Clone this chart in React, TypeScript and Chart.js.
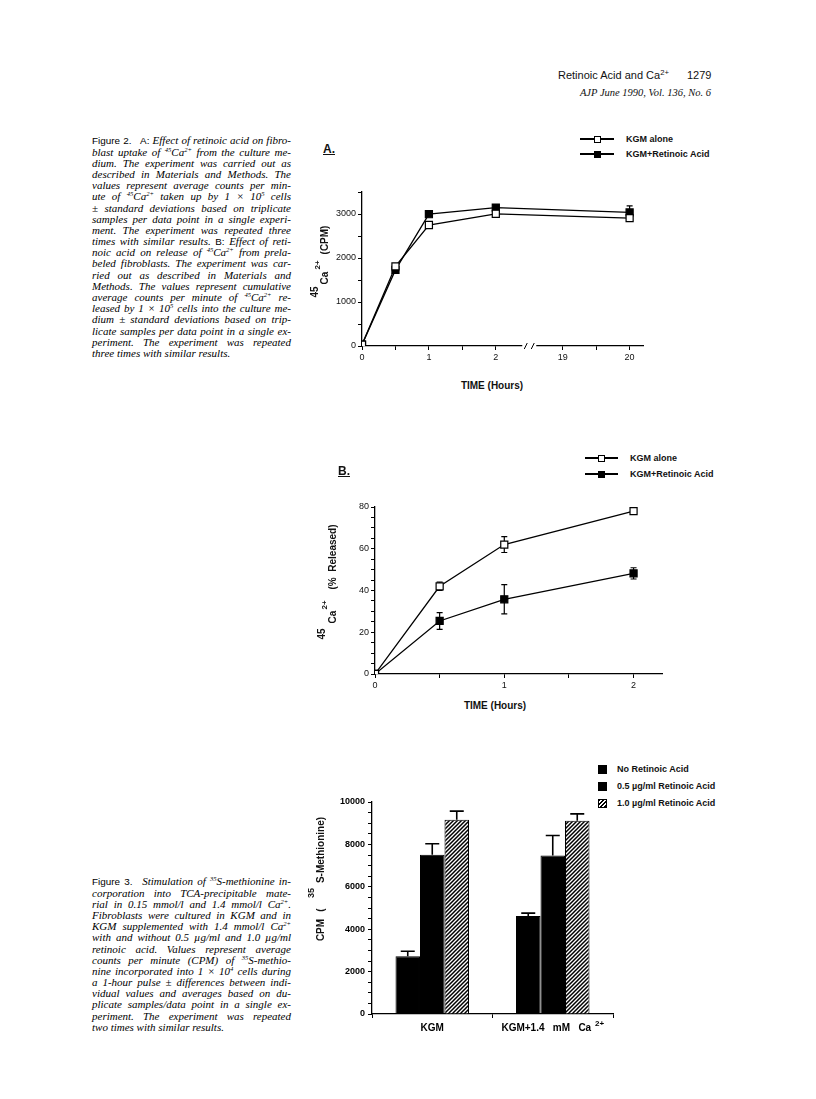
import React, { useEffect, useRef } from "react";
import { Chart, registerables } from "chart.js";

Chart.register(...registerables);

const SANS = "'Liberation Sans', Arial, Helvetica, sans-serif";
const SERIF = "'Liberation Serif', 'Times New Roman', serif";
Chart.defaults.font.family = SANS;
Chart.defaults.color = "#111";

// ---------- Figure 2A: 45Ca2+ uptake (CPM) ----------
const A_HOURS = [0, 0.5, 1, 2, 20];
const A_TICK_HOURS = [0, 1, 2, 19, 20];
const A_KGM = [30, 1810, 2750, 3005, 2905];
const A_KGM_ERR = [0, 40, 60, 40, 50];
const A_RA = [30, 1730, 2995, 3145, 3035];
const A_RA_ERR = [0, 40, 40, 60, 150];

// ---------- Figure 2B: 45Ca2+ release (%) ----------
const B_HOURS = [0, 0.5, 1, 2];
const B_KGM = [0, 42, 62, 78];
const B_KGM_ERR = [0, 2, 3.8, 1];
const B_RA = [0, 25.4, 35.8, 48.2];
const B_RA_ERR = [0, 4, 7, 2.7];

// ---------- Figure 3: 35S-methionine incorporation ----------
const C_CATEGORIES = ["KGM", "KGM+1.4   mM   Ca ^2+"];
const C_NO_RA = [2720, 4620];
const C_NO_RA_ERR = [240, 140];
const C_RA05 = [7510, 7480];
const C_RA05_ERR = [520, 940];
const C_RA10 = [9160, 9110];
const C_RA10_ERR = [410, 330];

const LEGEND_LINE = ["KGM alone", "KGM+Retinoic Acid"];
const LEGEND_BAR = ["No Retinoic Acid", "0.5 \u00b5g/ml Retinoic Acid", "1.0 \u00b5g/ml Retinoic Acid"];

const FIG2_CAPTION = [
  "~{Figure 2.}\u2002 ~{A:} Effect of retinoic acid on fibro-",
  "blast uptake of ^{45}Ca^{2+} from the culture me-",
  "dium. The experiment was carried out as",
  "described in Materials and Methods. The",
  "values represent average counts per min-",
  "ute of ^{45}Ca^{2+} taken up by 1 \u00d7 10^{5} cells",
  "\u00b1 standard deviations based on triplicate",
  "samples per data point in a single experi-",
  "ment. The experiment was repeated three",
  "times with similar results. ~{B:} Effect of reti-",
  "noic acid on release of ^{45}Ca^{2+} from prela-",
  "beled fibroblasts. The experiment was car-",
  "ried out as described in Materials and",
  "Methods. The values represent cumulative",
  "average counts per minute of ^{45}Ca^{2+} re-",
  "leased by 1 \u00d7 10^{5} cells into the culture me-",
  "dium \u00b1 standard deviations based on trip-",
  "licate samples per data point in a single ex-",
  "periment. The experiment was repeated",
  "three times with similar results.",
];

const FIG3_CAPTION = [
  "~{Figure 3.}\u2002 Stimulation of ^{35}S-methionine in-",
  "corporation into TCA-precipitable mate-",
  "rial in 0.15 mmol/l and 1.4 mmol/l Ca^{2+}.",
  "Fibroblasts were cultured in KGM and in",
  "KGM supplemented with 1.4 mmol/l Ca^{2+}",
  "with and without 0.5 \u00b5g/ml and 1.0 \u00b5g/ml",
  "retinoic acid. Values represent average",
  "counts per minute (CPM) of ^{35}S-methio-",
  "nine incorporated into 1 \u00d7 10^{4} cells during",
  "a 1-hour pulse \u00b1 differences between indi-",
  "vidual values and averages based on du-",
  "plicate samples/data point in a single ex-",
  "periment. The experiment was repeated",
  "two times with similar results.",
];

// broken time axis: 0..2 h linear, then 19 h and 20 h placed one unit apart
function axisPos(h: number) {
  return h <= 2 ? h : h - 16;
}

const errorBarPlugin = {
  id: "errorBars",
  _draw(chart: any, opts: any) {
    const ctx = chart.ctx;
    const yScale = chart.scales.y;
    const cap = opts.cap ?? 3;
    ctx.save();
    ctx.strokeStyle = "#000";
    ctx.lineWidth = opts.width ?? 1.2;
    chart.data.datasets.forEach((ds: any, i: number) => {
      const errs = ds.errors;
      if (!errs) return;
      const meta = chart.getDatasetMeta(i);
      meta.data.forEach((el: any, j: number) => {
        const e = errs[j];
        if (!e) return;
        const raw = ds.data[j];
        const v = typeof raw === "number" ? raw : raw.y;
        const x = el.x;
        const yTop = yScale.getPixelForValue(v + e);
        const yBot = opts.upOnly ? yScale.getPixelForValue(v) : yScale.getPixelForValue(v - e);
        ctx.beginPath();
        ctx.moveTo(x, yBot);
        ctx.lineTo(x, yTop);
        ctx.moveTo(x - cap, yTop);
        ctx.lineTo(x + cap, yTop);
        if (!opts.upOnly) {
          ctx.moveTo(x - cap, yBot);
          ctx.lineTo(x + cap, yBot);
        }
        ctx.stroke();
      });
    });
    ctx.restore();
  },
  beforeDatasetsDraw(chart: any, _a: any, opts: any) {
    if (opts.before) (errorBarPlugin as any)._draw(chart, opts);
  },
  afterDatasetsDraw(chart: any, _a: any, opts: any) {
    if (!opts.before) (errorBarPlugin as any)._draw(chart, opts);
  },
};

const axisBreakPlugin = {
  id: "axisBreak",
  afterDraw(chart: any, _a: any, opts: any) {
    if (opts.at === undefined) return;
    const ctx = chart.ctx;
    const px = chart.scales.x.getPixelForValue(opts.at);
    const y = chart.chartArea.bottom;
    ctx.save();
    ctx.fillStyle = "#fff";
    ctx.fillRect(px - 7, y - 3, 14, 10);
    ctx.strokeStyle = "#000";
    ctx.lineWidth = 1;
    ctx.beginPath();
    ctx.moveTo(px - 5, y + 3);
    ctx.lineTo(px - 2, y - 3);
    ctx.moveTo(px + 2, y + 3);
    ctx.lineTo(px + 5, y - 3);
    ctx.stroke();
    ctx.restore();
  },
};

// category labels with a raised "^" part (e.g. Ca 2+)
const supLabelPlugin = {
  id: "supLabels",
  afterDraw(chart: any, _a: any, opts: any) {
    if (!opts.size) return;
    const xs = chart.scales.x;
    const ctx = chart.ctx;
    const y = chart.chartArea.bottom + opts.offset;
    ctx.save();
    ctx.fillStyle = "#000";
    ctx.textBaseline = "middle";
    ctx.textAlign = "left";
    (chart.data.labels || []).forEach((lab: string, i: number) => {
      const [base, sup] = String(lab).split("^");
      const fBase = `bold ${opts.size}px ${SANS}`;
      const fSup = `bold ${opts.supSize}px ${SANS}`;
      ctx.font = fBase;
      const wb = ctx.measureText(base).width;
      ctx.font = fSup;
      const ws = sup ? ctx.measureText(sup).width + 1 : 0;
      const cx = xs.getPixelForTick(i);
      const left = cx - (wb + ws) / 2;
      ctx.font = fBase;
      ctx.fillText(base, left, y);
      if (sup) {
        ctx.font = fSup;
        ctx.fillText(sup, left + wb + 1, y - 4);
      }
    });
    ctx.restore();
  },
};

function axisCommon(font: any) {
  return {
    grid: { drawOnChartArea: false, drawTicks: true, tickLength: 4, color: "#000", lineWidth: 1 },
    border: { display: true, color: "#000", width: 1.3 },
    ticks: { color: "#111", font, padding: 2, autoSkip: false, maxRotation: 0, includeBounds: false },
  };
}

function lineDataset(label: string, hours: number[], values: number[], errs: number[], filled: boolean, mapX: (h: number) => number) {
  return {
    label,
    data: hours.map((h, i) => ({ x: mapX(h), y: values[i] })),
    errors: errs,
    borderColor: "#000",
    borderWidth: 1.3,
    pointStyle: "rect",
    pointRadius: 5,
    pointBorderWidth: 1.2,
    pointBorderColor: "#000",
    pointBackgroundColor: filled ? "#000" : "#fff",
    tension: 0,
  };
}

function configA() {
  const tickFont = { size: 9, family: SANS };
  const xc = axisCommon(tickFont);
  const yc = axisCommon(tickFont);
  return {
    type: "line",
    data: {
      datasets: [
        lineDataset(LEGEND_LINE[0], A_HOURS, A_KGM, A_KGM_ERR, false, axisPos),
        lineDataset(LEGEND_LINE[1], A_HOURS, A_RA, A_RA_ERR, true, axisPos),
      ],
    },
    options: {
      animation: false,
      responsive: false,
      maintainAspectRatio: false,
      layout: { padding: { top: 12, right: 17, left: 0, bottom: 0 } },
      plugins: {
        legend: { display: false },
        tooltip: { enabled: false },
        errorBars: { cap: 3, before: true },
        axisBreak: { at: 2.5 },
      },
      scales: {
        x: {
          type: "linear",
          min: 0,
          max: 4.2,
          ...xc,
          ticks: {
            ...xc.ticks,
            stepSize: 0.5,
            callback: (v: number) => {
              const h = A_TICK_HOURS.find((t) => Math.abs(axisPos(t) - v) < 1e-6);
              return h === undefined ? "" : String(h);
            },
          },
          afterFit: (s: any) => {
            s.height = 24;
          },
        },
        y: {
          min: 0,
          max: 3500,
          ...yc,
          ticks: { ...yc.ticks, stepSize: 500, callback: (v: number) => (v % 1000 === 0 ? String(v) : "") },
          afterFit: (s: any) => {
            s.width = 62;
          },
        },
      },
    },
    plugins: [errorBarPlugin, axisBreakPlugin],
  };
}

function configB() {
  const tickFont = { size: 9, family: SANS };
  const xc = axisCommon(tickFont);
  const yc = axisCommon(tickFont);
  const id = (h: number) => h;
  return {
    type: "line",
    data: {
      datasets: [
        lineDataset(LEGEND_LINE[0], B_HOURS, B_KGM, B_KGM_ERR, false, id),
        lineDataset(LEGEND_LINE[1], B_HOURS, B_RA, B_RA_ERR, true, id),
      ],
    },
    options: {
      animation: false,
      responsive: false,
      maintainAspectRatio: false,
      layout: { padding: { top: 12, right: 18, left: 0, bottom: 0 } },
      plugins: {
        legend: { display: false },
        tooltip: { enabled: false },
        errorBars: { cap: 3, before: true },
      },
      scales: {
        x: {
          type: "linear",
          min: 0,
          max: 2.22,
          ...xc,
          ticks: {
            ...xc.ticks,
            stepSize: 0.5,
            callback: (v: number) => (Math.abs(v - Math.round(v)) < 1e-6 ? String(Math.round(v)) : ""),
          },
          afterFit: (s: any) => {
            s.height = 21;
          },
        },
        y: {
          min: 0,
          max: 80,
          ...yc,
          ticks: { ...yc.ticks, stepSize: 5, callback: (v: number) => (v % 20 === 0 ? String(v) : "") },
          afterFit: (s: any) => {
            s.width = 75;
          },
        },
      },
    },
    plugins: [errorBarPlugin],
  };
}

function makeHatch(ctx: CanvasRenderingContext2D) {
  const c = document.createElement("canvas");
  c.width = 4;
  c.height = 4;
  const g = c.getContext("2d")!;
  g.fillStyle = "#fff";
  g.fillRect(0, 0, 4, 4);
  g.strokeStyle = "#000";
  g.lineWidth = 1.5;
  g.beginPath();
  g.moveTo(0, 4);
  g.lineTo(4, 0);
  g.moveTo(-1, 1);
  g.lineTo(1, -1);
  g.moveTo(3, 5);
  g.lineTo(5, 3);
  g.stroke();
  return ctx.createPattern(c, "repeat");
}

function configC(canvas: HTMLCanvasElement) {
  const hatch = makeHatch(canvas.getContext("2d")!);
  const yc = axisCommon({ size: 9, family: SANS, weight: "bold" });
  const xc = axisCommon({ size: 10, family: SANS, weight: "bold" });
  const bar = (label: string, data: number[], errs: number[], fill: any) => ({
    label,
    data,
    errors: errs,
    backgroundColor: fill,
    borderColor: "#000",
    borderWidth: 1,
    barPercentage: 1,
    categoryPercentage: 0.61,
  });
  return {
    type: "bar",
    data: {
      labels: C_CATEGORIES,
      datasets: [
        bar(LEGEND_BAR[0], C_NO_RA, C_NO_RA_ERR, "#000"),
        bar(LEGEND_BAR[1], C_RA05, C_RA05_ERR, "#000"),
        bar(LEGEND_BAR[2], C_RA10, C_RA10_ERR, hatch),
      ],
    },
    options: {
      animation: false,
      responsive: false,
      maintainAspectRatio: false,
      layout: { padding: { top: 12, right: 17, left: 0, bottom: 0 } },
      plugins: {
        legend: { display: false },
        tooltip: { enabled: false },
        errorBars: { cap: 7, upOnly: true, width: 1.6 },
        supLabels: { size: 10, supSize: 8, offset: 14 },
      },
      scales: {
        x: {
          ...xc,
          grid: { ...xc.grid, offset: true },
          ticks: { ...xc.ticks, padding: 3, color: "#000", callback: () => "" },
          afterFit: (s: any) => {
            s.height = 26;
          },
        },
        y: {
          min: 0,
          max: 10000,
          ...yc,
          ticks: { ...yc.ticks, padding: 3, color: "#000", stepSize: 500, callback: (v: number) => (v % 2000 === 0 ? String(v) : "") },
          afterFit: (s: any) => {
            s.width = 72;
          },
        },
      },
    },
    plugins: [errorBarPlugin, supLabelPlugin],
  };
}

function ChartBox({ left, top, width, height, make }: any) {
  const ref = useRef<HTMLCanvasElement>(null);
  useEffect(() => {
    const canvas = ref.current!;
    const chart = new Chart(canvas, make(canvas));
    return () => chart.destroy();
  }, []);
  return (
    <canvas
      ref={ref}
      width={width}
      height={height}
      style={{ position: "absolute", left, top, width, height }}
    />
  );
}

function rich(s: string) {
  const parts: any[] = [];
  const re = /(\^\{[^}]*\}|~\{[^}]*\})/g;
  let last = 0;
  let m: RegExpExecArray | null;
  let k = 0;
  while ((m = re.exec(s))) {
    if (m.index > last) parts.push(s.slice(last, m.index));
    const tok = m[0];
    const inner = tok.slice(2, -1);
    if (tok[0] === "^") {
      parts.push(
        <span key={k++} style={{ fontSize: "0.6em", position: "relative", top: "-0.6em", lineHeight: 0, verticalAlign: "baseline" }}>
          {inner}
        </span>
      );
    } else {
      parts.push(
        <span key={k++} style={{ fontFamily: SANS, fontStyle: "normal", fontSize: "0.9em" }}>
          {inner}
        </span>
      );
    }
    last = m.index + tok.length;
  }
  if (last < s.length) parts.push(s.slice(last));
  return parts;
}

function Caption({ left, top, width, lines }: any) {
  return (
    <div style={{ position: "absolute", left, top, width, fontFamily: SERIF, fontStyle: "italic", fontSize: 11, lineHeight: "11.2px", color: "#000" }}>
      {lines.map((ln: string, i: number) => (
        <div
          key={i}
          style={{
            height: 11.2,
            whiteSpace: "nowrap",
            textAlign: i === lines.length - 1 ? "left" : "justify",
            textAlignLast: i === lines.length - 1 ? "left" : "justify",
          }}
        >
          {rich(ln)}
        </div>
      ))}
    </div>
  );
}

function T({ x, y, size = 10, bold = true, rotate = false, children, style }: any) {
  return (
    <div
      style={{
        position: "absolute",
        left: x,
        top: y,
        transform: `translate(-50%, -50%)${rotate ? " rotate(-90deg)" : ""}`,
        fontFamily: SANS,
        fontWeight: bold ? "bold" : "normal",
        fontSize: size,
        lineHeight: 1,
        whiteSpace: "pre",
        color: "#111",
        ...style,
      }}
    >
      {children}
    </div>
  );
}

function LineLegend({ x0, x1, y, textX, filled, label }: any) {
  const cx = (x0 + x1) / 2;
  return (
    <>
      <div style={{ position: "absolute", left: x0, top: y - 0.65, width: x1 - x0, height: 1.3, background: "#000" }} />
      <div
        style={{
          position: "absolute",
          left: cx - 3.5,
          top: y - 3.5,
          width: 7,
          height: 7,
          boxSizing: "border-box",
          border: "1.2px solid #000",
          background: filled ? "#000" : "#fff",
        }}
      />
      <div style={{ position: "absolute", left: textX, top: y - 5.5, fontFamily: SANS, fontWeight: "bold", fontSize: 9, lineHeight: "11px", whiteSpace: "nowrap", color: "#111" }}>
        {label}
      </div>
    </>
  );
}

function BarLegend({ x, y, textX, hatched, label }: any) {
  return (
    <>
      <div
        style={{
          position: "absolute",
          left: x,
          top: y - 4.5,
          width: 9,
          height: 9,
          boxSizing: "border-box",
          border: "1px solid #000",
          background: hatched ? "repeating-linear-gradient(135deg, #000 0 1.2px, #fff 1.2px 2.8px)" : "#000",
        }}
      />
      <div style={{ position: "absolute", left: textX, top: y - 5.5, fontFamily: SANS, fontWeight: "bold", fontSize: 9, lineHeight: "11px", whiteSpace: "nowrap", color: "#111" }}>
        {label}
      </div>
    </>
  );
}

export default function App() {
  return (
    <div style={{ position: "absolute", left: 0, top: 0, width: 816, height: 1099, background: "#fff", overflow: "hidden" }}>
      {/* running header */}
      <div style={{ position: "absolute", left: 558, top: 69, fontFamily: SANS, fontSize: 11, lineHeight: "13px", whiteSpace: "nowrap", color: "#111" }}>
        Retinoic Acid and Ca<sup style={{ fontSize: "0.7em", verticalAlign: "0.5em", lineHeight: 0 }}>2+</sup>
        <span style={{ marginLeft: 18 }}>1279</span>
      </div>
      <div style={{ position: "absolute", right: 816 - 711, top: 87, fontFamily: SERIF, fontStyle: "italic", fontSize: 10.5, lineHeight: "12px", whiteSpace: "nowrap", color: "#111" }}>
        AJP June 1990, Vol. 136, No. 6
      </div>

      {/* captions */}
      <Caption left={92} top={135.4} width={199} lines={FIG2_CAPTION} />
      <Caption left={92} top={876.4} width={199} lines={FIG3_CAPTION} />

      {/* Figure 2A */}
      <div style={{ position: "absolute", left: 323, top: 143, fontFamily: SANS, fontWeight: "bold", fontSize: 12, lineHeight: "13px", textDecoration: "underline", color: "#111" }}>A.</div>
      <LineLegend x0={580} x1={614} y={139} textX={626} filled={false} label={LEGEND_LINE[0]} />
      <LineLegend x0={580} x1={614} y={154} textX={626} filled={true} label={LEGEND_LINE[1]} />
      <ChartBox left={300} top={180} width={360} height={190} make={configA} />
      <T x={325} y={240} rotate>(CPM)</T>
      <T x={325} y={278} rotate>Ca</T>
      <T x={318} y={265} rotate size={8}>2+</T>
      <T x={315} y={292} rotate>45</T>
      <T x={492} y={386}>TIME (Hours)</T>

      {/* Figure 2B */}
      <div style={{ position: "absolute", left: 338, top: 465, fontFamily: SANS, fontWeight: "bold", fontSize: 12, lineHeight: "13px", textDecoration: "underline", color: "#111" }}>B.</div>
      <LineLegend x0={585} x1={618} y={458} textX={630} filled={false} label={LEGEND_LINE[0]} />
      <LineLegend x0={585} x1={618} y={474} textX={630} filled={true} label={LEGEND_LINE[1]} />
      <ChartBox left={300} top={495} width={380} height={200} make={configB} />
      <T x={333} y={557} rotate>(%  Released)</T>
      <T x={333} y={617} rotate>Ca</T>
      <T x={325} y={605} rotate size={8}>2+</T>
      <T x={322} y={634} rotate>45</T>
      <T x={495} y={706}>TIME (Hours)</T>

      {/* Figure 3 */}
      <BarLegend x={598} y={769} textX={617} hatched={false} label={LEGEND_BAR[0]} />
      <BarLegend x={598} y={786} textX={617} hatched={false} label={LEGEND_BAR[1]} />
      <BarLegend x={598} y={803} textX={617} hatched={true} label={LEGEND_BAR[2]} />
      <ChartBox left={300} top={790} width={330} height={250} make={configC} />
      <T x={321} y={850} rotate>S-Methionine)</T>
      <T x={311} y={893} rotate size={9}>35</T>
      <T x={321} y={910} rotate>(</T>
      <T x={321} y={930} rotate>CPM</T>
    </div>
  );
}
